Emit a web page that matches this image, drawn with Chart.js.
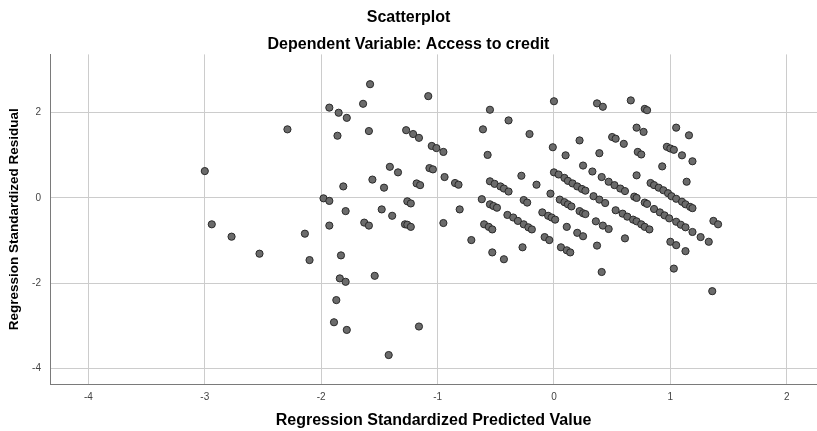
<!DOCTYPE html>
<html>
<head>
<meta charset="utf-8">
<title>Scatterplot</title>
<script src="https://cdn.jsdelivr.net/npm/chart.js@4.4.0/dist/chart.umd.min.js"></script>
<style>
  html, body { margin: 0; padding: 0; background: #fff; }
</style>
</head>
<body>
<canvas id="chart" width="817" height="431"></canvas>
<script>
// values
const predicted = [
  -3.00, -2.29, -2.94, -2.77, -2.53, -2.14, -2.10, -1.98, -1.93, -1.93,
  -1.85, -1.78, -1.64, -1.86, -1.59, -1.58, -1.08, -1.27, -1.21, -1.16,
  -1.05, -1.01, -0.95, -1.41, -1.34, -1.07, -1.04, -1.56, -1.81, -1.46,
  -1.18, -1.15, -0.94, -0.85, -0.82, -1.79, -1.48, -1.39, -1.26, -1.23,
  -0.81, -1.93, -1.83, -1.84, -1.79, -1.87, -1.89, -1.78, -1.63, -1.59,
  -1.54, -1.42, -1.16, -1.28, -1.26, -1.23, -0.95, -0.71,
  -0.55, -0.39, -0.61, -0.21, -0.57, 0.00, -0.01, -0.28, -0.15,
  -0.55, -0.51, -0.46, -0.43, -0.39,
  -0.03, -0.62, -0.55, -0.52, -0.49, -0.26, -0.23,
  -0.40, -0.35, -0.31, -0.26, -0.22, -0.19,
  -0.10, -0.05, -0.02, 0.01,
  -0.60, -0.56, -0.53, -0.53, -0.43, -0.27, -0.08, -0.04,
  0.00, 0.04, 0.09, 0.12, 0.16, 0.20, 0.24, 0.27,
  0.37, 0.42, 0.22, 0.10, 0.39, 0.25,
  0.05, 0.09, 0.12, 0.15, 0.22, 0.25, 0.27,
  0.36, 0.42, 0.47, 0.11, 0.20, 0.25, 0.06, 0.11, 0.14, 0.37, 0.41,
  0.66, 0.78, 0.80, 0.71, 0.77, 1.05, 1.16, 0.50, 0.53, 0.60,
  0.72, 0.75, 0.97, 1.00, 1.03, 1.10, 1.19, 0.93, 0.71, 1.14,
  0.33, 0.41, 0.47, 0.52, 0.57, 0.61,
  0.83, 0.86, 0.90, 0.94, 0.98, 1.01, 1.05, 1.10, 1.13, 1.17, 1.19,
  0.34, 0.39, 0.44, 0.69, 0.71, 0.78, 0.80,
  0.53, 0.59, 0.63, 0.68, 0.71, 0.75, 0.78, 0.82,
  0.86, 0.91, 0.95, 0.99, 1.05, 1.09, 1.13, 1.19,
  1.26, 1.33, 1.37, 1.41, 0.61, 1.00, 1.05, 1.13, 1.03, 1.36,
];

const residual = [
  0.63, 1.61, -0.62, -0.91, -1.31, -0.84, -1.46, -0.01, -0.07, 2.12,
  2.00, 1.88, 2.21, 1.46, 1.57, 2.67, 2.39, 1.59, 1.50, 1.41,
  1.22, 1.17, 1.08, 0.73, 0.60, 0.70, 0.67, 0.43, 0.27, 0.24,
  0.34, 0.30, 0.49, 0.35, 0.31, -0.31, -0.27, -0.42, -0.08, -0.13,
  -0.27, -0.65, -1.35, -1.89, -1.97, -2.40, -2.92, -3.10, -0.58, -0.65,
  -1.83, -3.69, -3.02, -0.62, -0.63, -0.68, -0.59, -0.99,
  2.07, 1.82, 1.61, 1.50, 1.01, 2.27, 1.19, 0.52, 0.31,
  0.39, 0.33, 0.27, 0.22, 0.15,
  0.10, -0.03, -0.15, -0.19, -0.23, -0.05, -0.11,
  -0.40, -0.46, -0.54, -0.62, -0.69, -0.74,
  -0.34, -0.42, -0.46, -0.51,
  -0.62, -0.68, -0.74, -1.28, -1.44, -1.16, -0.92, -0.99,
  0.60, 0.55, 0.47, 0.40, 0.34, 0.27, 0.21, 0.17,
  2.22, 2.14, 1.35, 1.00, 1.05, 0.76,
  -0.04, -0.10, -0.15, -0.20, -0.31, -0.36, -0.38,
  -0.55, -0.65, -0.73, -0.68, -0.82, -0.90, -1.16, -1.23, -1.28, -1.12, -1.74,
  2.29, 2.09, 2.06, 1.65, 1.55, 1.65, 1.47, 1.43, 1.39, 1.27,
  1.08, 1.02, 1.20, 1.16, 1.13, 1.00, 0.86, 0.74, 0.53, 0.38,
  0.62, 0.49, 0.38, 0.30, 0.22, 0.16,
  0.35, 0.30, 0.24, 0.18, 0.11, 0.04, -0.02, -0.09, -0.15, -0.21, -0.24,
  0.04, -0.04, -0.12, 0.03, 0.00, -0.11, -0.14,
  -0.29, -0.37, -0.44, -0.51, -0.55, -0.62, -0.68, -0.74,
  -0.26, -0.34, -0.41, -0.48, -0.56, -0.63, -0.69, -0.80,
  -0.92, -1.03, -0.54, -0.62, -0.95, -1.03, -1.11, -1.25, -1.66, -2.19,
];

const xTicks = [-4, -3, -2, -1, 0, 1, 2];
const yTicks = [-4, -2, 0, 2];

const fontFamily = "'Liberation Sans', Arial, sans-serif";

const points = predicted.map((x, i) => ({ x: x, y: residual[i] }));

const ctx = document.querySelector("#chart").getContext("2d");

new Chart(ctx, {
  type: "scatter",
  data: {
    datasets: [
      {
        data: points,
        backgroundColor: "#6b6b6b",
        borderColor: "#2a2a2a",
        borderWidth: 1,
        pointRadius: 3.6,
      },
    ],
  },
  options: {
    responsive: false,
    animation: false,
    layout: { padding: 0, autoPadding: false },
    plugins: {
      legend: { display: false },
      tooltip: { enabled: false },
      title: {
        display: true,
        text: "Scatterplot",
        color: "#000",
        font: { family: fontFamily, size: 16, weight: "bold" },
        padding: { top: 8, bottom: 4 },
      },
      subtitle: {
        display: true,
        text: "Dependent Variable: Access to credit",
        color: "#000",
        font: { family: fontFamily, size: 16, weight: "bold" },
        padding: { top: 4, bottom: 0 },
      },
    },
    scales: {
      x: {
        type: "linear",
        min: -4.33,
        max: 2.26,
        afterBuildTicks: (scale) => {
          scale.ticks = xTicks.map((v) => ({ value: v }));
        },
        afterFit: (scale) => {
          scale.height = 47;
          scale.paddingLeft = 0;
          scale.paddingRight = 0;
        },
        grid: { color: "#cccccc", lineWidth: 1, drawTicks: false },
        border: { color: "#7a7a7a", width: 1 },
        ticks: {
          color: "#444",
          padding: 7,
          font: { family: fontFamily, size: 10 },
        },
        title: {
          display: true,
          text: "Regression Standardized Predicted Value",
          color: "#000",
          font: { family: fontFamily, size: 16, weight: "bold" },
          padding: { top: 0, bottom: 1 },
        },
      },
      y: {
        type: "linear",
        min: -4.37,
        max: 3.37,
        afterBuildTicks: (scale) => {
          scale.ticks = yTicks.map((v) => ({ value: v }));
        },
        afterFit: (scale) => {
          scale.width = 50;
          scale.paddingTop = 0;
          scale.paddingBottom = 0;
        },
        grid: { color: "#cccccc", lineWidth: 1, drawTicks: false },
        border: { color: "#7a7a7a", width: 1 },
        ticks: {
          color: "#444",
          padding: 9,
          font: { family: fontFamily, size: 10 },
        },
        title: {
          display: true,
          text: "Regression Standardized Residual",
          color: "#000",
          font: { family: fontFamily, size: 13.5, weight: "bold" },
          padding: { top: 6, bottom: 0 },
        },
      },
    },
  },
});
</script>
</body>
</html>
